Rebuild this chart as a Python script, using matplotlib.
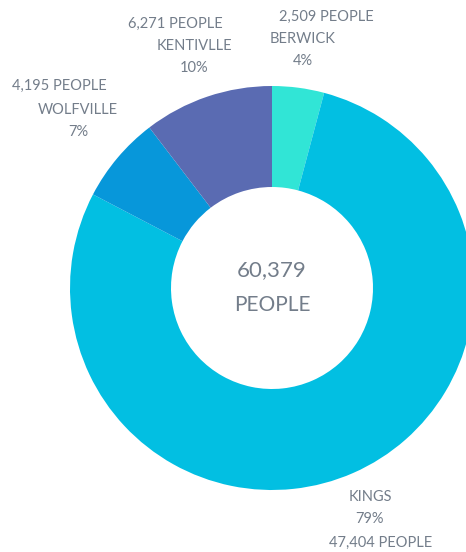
import matplotlib
matplotlib.use("Agg")
import matplotlib.pyplot as plt

towns = ["BERWICK", "KINGS", "WOLFVILLE", "KENTIVLLE"]
people = [2509, 47404, 4195, 6271]
percents = ["4%", "79%", "7%", "10%"]
colors = ["#31E5D6", "#02BFE2", "#0797DA", "#5A6BB2"]
total_label = "60,379"

W, H = 466, 552
fig = plt.figure(figsize=(W / 100, H / 100), dpi=100)
ax = fig.add_axes([0, 0, 1, 1])

def Y(y):
    return H - y

cx, cy, R = 272, 288, 202
ax.pie(people, colors=colors, startangle=90, counterclock=False,
       center=(cx, Y(cy)), radius=R, wedgeprops=dict(width=R * 0.5, linewidth=0),
       frame=True)
ax.set_xlim(0, W)
ax.set_ylim(0, H)
ax.set_aspect("equal")
ax.axis("off")

tc = "#737D8A"
font = dict(family=["Lato", "DejaVu Sans"], color=tc, ha="center", va="center")

ax.text(cx, Y(270), total_label, fontsize=16, **font)
ax.text(cx, Y(305), "PEOPLE", fontsize=15, **font)

# label layout: (name x, name y, people x, people y)
layout = {
    "BERWICK": (303, 39, 326, 17),
    "KINGS": (370, 497, 381, 543),
    "WOLFVILLE": (78, 110, 59, 86),
    "KENTIVLLE": (194, 46, 175, 24),
}
for t, p, pc in zip(towns, people, percents):
    nx, ny, px, py = layout[t]
    ax.text(nx, Y(ny), t, fontsize=10.5, **font)
    ax.text(nx, Y(ny + 22), pc, fontsize=10.5, **font)
    ax.text(px, Y(py), f"{p:,} PEOPLE", fontsize=10.5, **font)

fig.savefig("out.png", dpi=100, facecolor="white")
